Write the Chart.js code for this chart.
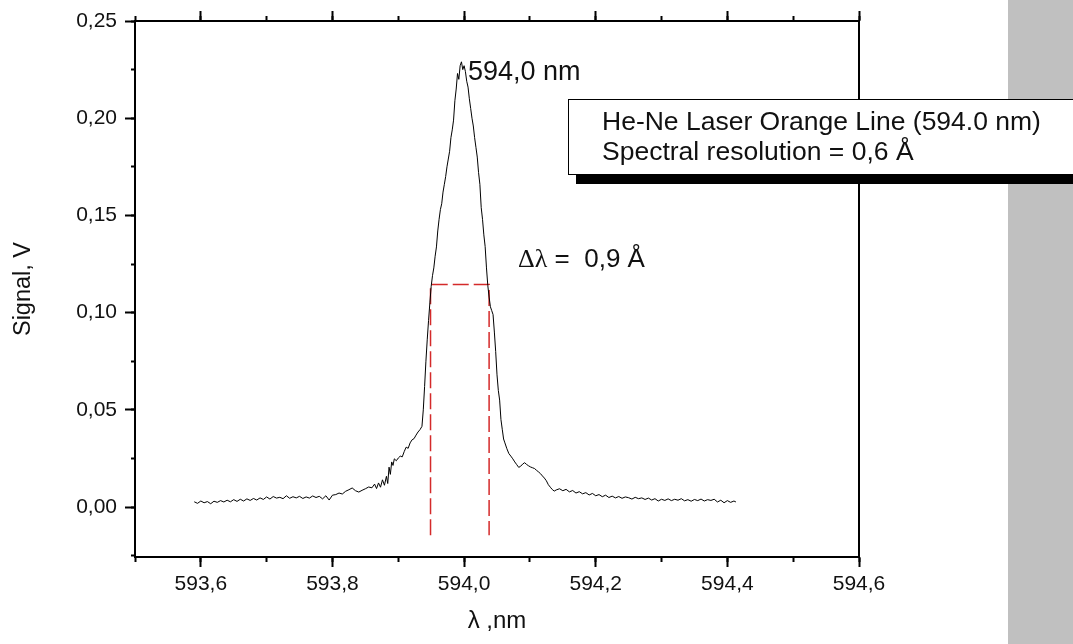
<!DOCTYPE html>
<html>
<head>
<meta charset="utf-8">
<script src="https://cdn.jsdelivr.net/npm/chart.js@4.4.0/dist/chart.umd.min.js"></script>
<style>
  body { margin: 0; background: #fff; }
  canvas { display: block; }
</style>
</head>
<body>
<canvas id="spectrum" width="1073" height="644"></canvas>
<script>
// wavelength (nm) and detector signal (V)
var wavelength = [
  593.590, 593.595, 593.600, 593.605, 593.610, 593.615, 593.620, 593.625, 593.630, 593.635,
  593.640, 593.645, 593.650, 593.655, 593.660, 593.665, 593.670, 593.675, 593.680, 593.685,
  593.690, 593.695, 593.700, 593.705, 593.710, 593.715, 593.720, 593.725, 593.730, 593.735,
  593.740, 593.745, 593.750, 593.755, 593.760, 593.765, 593.770, 593.775, 593.780, 593.785,
  593.790, 593.795, 593.800, 593.805, 593.810, 593.815, 593.820, 593.825, 593.830, 593.835,
  593.840, 593.845, 593.850, 593.855, 593.860,
  593.864, 593.867, 593.870, 593.873, 593.876, 593.879, 593.882, 593.884, 593.886, 593.888,
  593.890, 593.892, 593.894, 593.897, 593.900, 593.903, 593.906, 593.909, 593.912, 593.915,
  593.918, 593.921, 593.924, 593.927, 593.930, 593.933, 593.936, 593.938, 593.940, 593.942,
  593.944, 593.946, 593.948, 593.950, 593.952, 593.954, 593.956, 593.958, 593.960, 593.962,
  593.964, 593.966, 593.968, 593.970, 593.972, 593.974, 593.976, 593.978, 593.980, 593.982,
  593.984, 593.986, 593.988, 593.990, 593.992, 593.994, 593.996, 593.998, 594.000, 594.002,
  594.004, 594.006, 594.008, 594.010, 594.012, 594.014, 594.016, 594.018, 594.020, 594.022,
  594.024, 594.026, 594.028, 594.030, 594.032, 594.034, 594.036, 594.038, 594.040, 594.042,
  594.044, 594.046, 594.048, 594.050, 594.052, 594.054, 594.056, 594.058, 594.060, 594.062,
  594.065, 594.068, 594.071, 594.074, 594.077, 594.080, 594.083, 594.086, 594.089, 594.092,
  594.095, 594.098, 594.101, 594.104, 594.107, 594.110, 594.113, 594.116, 594.119, 594.122,
  594.125, 594.128, 594.131, 594.134, 594.137, 594.140, 594.145, 594.150, 594.155, 594.160,
  594.165, 594.170, 594.175, 594.180, 594.185, 594.190, 594.195, 594.200, 594.205, 594.210,
  594.215, 594.220, 594.225, 594.230, 594.235, 594.240, 594.245, 594.250, 594.255, 594.260,
  594.265, 594.270, 594.275, 594.280, 594.285, 594.290, 594.295, 594.300, 594.305, 594.310,
  594.315, 594.320, 594.325, 594.330, 594.335, 594.340, 594.345, 594.350, 594.355, 594.360,
  594.365, 594.370, 594.375, 594.380, 594.385, 594.390, 594.395, 594.400, 594.405, 594.410,
  594.413
];
var signal = [
  0.0027, 0.0019, 0.0031, 0.0022, 0.0028, 0.0017, 0.0030, 0.0024, 0.0033, 0.0026,
  0.0035, 0.0027, 0.0038, 0.0029, 0.0040, 0.0031, 0.0042, 0.0034, 0.0044, 0.0036,
  0.0047, 0.0039, 0.0052, 0.0041, 0.0054, 0.0046, 0.0050, 0.0043, 0.0058, 0.0045,
  0.0053, 0.0047, 0.0055, 0.0044, 0.0052, 0.0046, 0.0057, 0.0049, 0.0055, 0.0042,
  0.0058, 0.0036, 0.0061, 0.0064, 0.0072, 0.0067, 0.0081, 0.0089, 0.0098, 0.0084,
  0.0077, 0.0086, 0.0094, 0.0103, 0.0099,
  0.0118, 0.0095, 0.0124, 0.0102, 0.0140, 0.0112, 0.0158, 0.0121, 0.0205, 0.0168,
  0.0232, 0.0214, 0.0248, 0.0238, 0.0252, 0.0262, 0.0258, 0.0285, 0.0308, 0.0302,
  0.0330, 0.0346, 0.0352, 0.0370, 0.0386, 0.0398, 0.0415, 0.0500, 0.0620, 0.0750,
  0.0860, 0.0960, 0.1050, 0.1135, 0.1190, 0.1230, 0.1290, 0.1338, 0.1420, 0.1480,
  0.1530, 0.1560, 0.1620, 0.1660, 0.1700, 0.1750, 0.1790, 0.1830, 0.1900, 0.1940,
  0.1990, 0.2090, 0.2150, 0.2230, 0.2200, 0.2270, 0.2290, 0.2250, 0.2270, 0.2240,
  0.2190, 0.2160, 0.2100, 0.2050, 0.2000, 0.1960, 0.1900, 0.1850, 0.1800, 0.1720,
  0.1660, 0.1540, 0.1480, 0.1400, 0.1340, 0.1230, 0.1140, 0.1080, 0.1030, 0.1010,
  0.0990, 0.0900, 0.0800, 0.0680, 0.0600, 0.0550, 0.0450, 0.0400, 0.0350, 0.0330,
  0.0300, 0.0275, 0.0262, 0.0248, 0.0232, 0.0218, 0.0204, 0.0210, 0.0221, 0.0228,
  0.0219, 0.0212, 0.0206, 0.0202, 0.0198, 0.0189, 0.0181, 0.0172, 0.0160, 0.0149,
  0.0135, 0.0115, 0.0102, 0.0090, 0.0082, 0.0088, 0.0094, 0.0084, 0.0091, 0.0078,
  0.0085, 0.0072, 0.0079, 0.0068, 0.0074, 0.0062, 0.0070, 0.0058, 0.0064, 0.0053,
  0.0061, 0.0049, 0.0056, 0.0047, 0.0054, 0.0045, 0.0052, 0.0048, 0.0041, 0.0050,
  0.0043, 0.0047, 0.0039, 0.0046, 0.0036, 0.0043, 0.0031, 0.0040, 0.0034, 0.0042,
  0.0033, 0.0040, 0.0035, 0.0043, 0.0032, 0.0038, 0.0030, 0.0039, 0.0033, 0.0041,
  0.0031, 0.0038, 0.0034, 0.0040, 0.0026, 0.0035, 0.0022, 0.0033, 0.0024, 0.0031,
  0.0026
];

// half-maximum width marker (red dashed)
var fwhmX = [593.949, 593.949, 594.038, 594.038];
var fwhmY = [-0.0145, 0.1145, 0.1145, -0.0145];

var xMajorTicks = [593.6, 593.8, 594.0, 594.2, 594.4, 594.6];
var xMinorTicks = [593.5, 593.6, 593.7, 593.8, 593.9, 594.0, 594.1, 594.2, 594.3, 594.4, 594.5, 594.6];
var yMajorTicks = [0.00, 0.05, 0.10, 0.15, 0.20, 0.25];
var yMinorTicks = [-0.025, 0.00, 0.025, 0.05, 0.075, 0.10, 0.125, 0.15, 0.175, 0.20, 0.225, 0.25];

var peakLabel = "594,0 nm";
var widthLabel = ["\u0394\u03bb", " =  0,9 \u00c5"];
var legendLines = ["He-Ne Laser Orange Line (594.0 nm)", "Spectral resolution = 0,6 \u00c5"];

var FONT = "'Liberation Sans', Arial, sans-serif";
var X_MIN = 593.5, X_MAX = 594.6, Y_MIN = -0.0257, Y_MAX = 0.25;

var comma = (v, d) => v.toFixed(d).replace('.', ',');

var setTicks = list => scale => { scale.ticks = list.map(v => ({ value: v })); };
var noSize = scale => { if (scale.isHorizontal()) scale.height = 0; else scale.width = 0; };

var frameAxis = function(axis, position, ticks, len, weight, border) {
  return {
    type: 'linear', axis: axis, position: position, weight: weight,
    min: axis === 'x' ? X_MIN : Y_MIN, max: axis === 'x' ? X_MAX : Y_MAX,
    afterBuildTicks: setTicks(ticks),
    afterFit: noSize,
    ticks: { display: false },
    grid: { drawOnChartArea: false, drawTicks: ticks.length > 0, tickLength: len, tickWidth: 2, tickColor: '#000' },
    border: { display: border, color: '#000', width: 2 }
  };
};

var backdrop = {
  id: 'backdrop',
  beforeDraw(chart) {
    const ctx = chart.ctx;
    ctx.save();
    ctx.fillStyle = '#fff';
    ctx.fillRect(0, 0, chart.width, chart.height);
    ctx.fillStyle = '#c0c0c0';
    ctx.fillRect(1008, 0, chart.width - 1008, chart.height);
    ctx.restore();
  }
};

var notes = {
  id: 'notes',
  afterDraw(chart) {
    const ctx = chart.ctx, xs = chart.scales.x, ys = chart.scales.y;
    ctx.save();
    ctx.fillStyle = '#111';
    ctx.textBaseline = 'middle';
    ctx.textAlign = 'left';

    // peak position label
    ctx.font = "27px " + FONT;
    ctx.fillText(peakLabel, xs.getPixelForValue(594.006), ys.getPixelForValue(0.2235));

    // width label
    let wx = xs.getPixelForValue(594.082), wy = ys.getPixelForValue(0.127);
    ctx.font = "26px 'Liberation Serif', serif";
    ctx.fillText(widthLabel[0], wx, wy);
    wx += ctx.measureText(widthLabel[0]).width;
    ctx.font = "26px " + FONT;
    ctx.fillText(widthLabel[1], wx, wy);

    // legend box with heavy drop shadow
    ctx.fillStyle = '#000';
    ctx.fillRect(576, 175, chart.width - 576, 9);
    ctx.fillStyle = '#fff';
    ctx.fillRect(568, 99, chart.width - 568 + 2, 76);
    ctx.strokeStyle = '#000';
    ctx.lineWidth = 1;
    ctx.strokeRect(568.5, 99.5, chart.width - 568 + 4, 75);
    ctx.fillStyle = '#111';
    ctx.font = "26.5px " + FONT;
    ctx.fillText(legendLines[0], 602, 123);
    ctx.fillText(legendLines[1], 602, 153);
    ctx.restore();
  }
};

new Chart(document.getElementById('spectrum'), {
  type: 'line',
  data: {
    datasets: [
      {
        label: 'signal',
        data: wavelength.map((w, i) => ({ x: w, y: signal[i] })),
        borderColor: '#000',
        borderWidth: 1,
        pointRadius: 0,
        tension: 0,
        xAxisID: 'x', yAxisID: 'y'
      },
      {
        label: 'FWHM',
        data: fwhmX.map((w, i) => ({ x: w, y: fwhmY[i] })),
        borderColor: '#d42a2a',
        borderWidth: 1.5,
        borderDash: [16, 5],
        pointRadius: 0,
        tension: 0,
        xAxisID: 'x', yAxisID: 'y'
      }
    ]
  },
  options: {
    responsive: false,
    animation: false,
    devicePixelRatio: 1,
    layout: { padding: { left: 0, top: 21, right: 214, bottom: 0 } },
    plugins: {
      legend: { display: false },
      tooltip: { enabled: false }
    },
    scales: {
      x: {
        type: 'linear', position: 'bottom', weight: 1,
        min: X_MIN, max: X_MAX,
        afterBuildTicks: setTicks(xMajorTicks),
        afterFit: s => { s.height = 87; },
        ticks: { color: '#111', font: { family: FONT, size: 21 }, padding: 5, maxRotation: 0,
                 callback: v => comma(v, 1) },
        grid: { drawOnChartArea: false, tickLength: 10, tickWidth: 2, tickColor: '#000' },
        border: { color: '#000', width: 2 },
        title: { display: true, text: '\u03bb ,nm', color: '#111', font: { family: FONT, size: 24 },
                 padding: { top: 0, bottom: 8 } }
      },
      xMinor: frameAxis('x', 'bottom', xMinorTicks, 5, 0, false),
      xTop: frameAxis('x', 'top', xMajorTicks, 10, 1, true),
      xTopMinor: frameAxis('x', 'top', xMinorTicks, 5, 0, false),
      y: {
        type: 'linear', position: 'left', weight: 1,
        min: Y_MIN, max: Y_MAX,
        afterBuildTicks: setTicks(yMajorTicks),
        afterFit: s => { s.width = 135; },
        ticks: { color: '#111', font: { family: FONT, size: 21 }, padding: 8,
                 callback: v => comma(v, 2) },
        grid: { drawOnChartArea: false, tickLength: 10, tickWidth: 2, tickColor: '#000' },
        border: { color: '#000', width: 2 },
        title: { display: true, text: 'Signal, V', color: '#111', font: { family: FONT, size: 23.5 },
                 padding: { top: 9, bottom: 0 } }
      },
      yMinor: frameAxis('y', 'left', yMinorTicks, 4, 0, false),
      yRight: frameAxis('y', 'right', [], 0, 0, true)
    }
  },
  plugins: [backdrop, notes]
});
</script>
</body>
</html>
